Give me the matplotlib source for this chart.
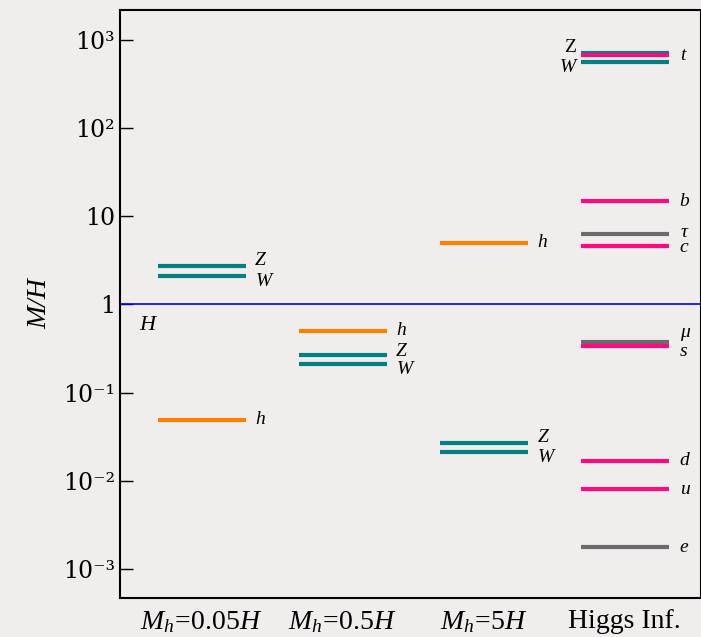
import matplotlib
matplotlib.use("Agg")
import matplotlib.pyplot as plt
import matplotlib.transforms as mtransforms

plt.rcParams['mathtext.fontset'] = 'custom'
plt.rcParams['mathtext.rm'] = 'Liberation Serif'
plt.rcParams['mathtext.it'] = 'Liberation Serif:italic'

BG = '#f0edec'
TEAL = '#008080'
PINK = '#ff0a7f'
GRAY = '#6b6b6b'
ORANGE = '#ff8000'

# x categories
categories = [r'$M_h\!=\!0.05H$', r'$M_h\!=\!0.5H$', r'$M_h\!=\!5H$', 'Higgs Inf.']

# masses in units of H, per column
col0_names = ['Z', 'W', 'h']
col0_vals = [2.70, 2.12, 0.049]
col1_names = ['h', 'Z', 'W']
col1_vals = [0.50, 0.265, 0.21]
col2_names = ['h', 'Z', 'W']
col2_vals = [5.0, 0.0265, 0.021]
col3_names = ['Z', 't', 'W', 'b', 'tau', 'c', 'mu', 's', 'd', 'u', 'e']
col3_vals = [706, 670, 568, 14.9, 6.36, 4.56, 0.377, 0.339, 0.0168, 0.00796, 0.00177]

colour = {'Z': TEAL, 'W': TEAL, 'h': ORANGE, 't': PINK, 'b': PINK, 'c': PINK,
          's': PINK, 'd': PINK, 'u': PINK, 'tau': GRAY, 'mu': GRAY, 'e': GRAY}
tex = {'tau': r'$\tau$', 'mu': r'$\mu$'}

# label offsets (points): dx from line end, dy
offs = {
    0: {'Z': (7, 4), 'W': (7, -4), 'h': (7, 0)},
    1: {'h': (7, 0), 'Z': (7, 3), 'W': (7, -4)},
    2: {'h': (7, 0), 'Z': (7, 4), 'W': (7, -4)},
    3: {'t': (8, 0), 'b': (8, 0), 'tau': (8, 1), 'c': (8, -1),
        'mu': (8, 5), 's': (8, -4), 'd': (8, 0), 'u': (8, 0), 'e': (8, 0)},
}

fig = plt.figure(figsize=(7.01, 6.37), dpi=100, facecolor=BG)
ax = fig.add_axes([120 / 701, 1 - 598 / 637, 1 - 120 / 701, (598 - 10) / 637])
ax.set_facecolor(BG)
ax.set_yscale('log')
ax.set_ylim(10 ** -3.33, 10 ** 3.34)
ax.set_xlim(-0.58, 3.54)

hw = 0.31
columns = [(col0_names, col0_vals), (col1_names, col1_vals),
           (col2_names, col2_vals), (col3_names, col3_vals)]
for i, (names, vals) in enumerate(columns):
    for n, v in zip(names, vals):
        ax.hlines(v, i - hw, i + hw, color=colour[n], lw=3, zorder=3 if n != 't' else 4)
        label = tex.get(n, n)
        if i == 3 and n in ('Z', 'W'):
            dy = 4 if n == 'Z' else -4
            ax.annotate(label, (i - hw, v), xytext=(-4, dy),
                        textcoords='offset points', ha='right', va='center',
                        fontsize=14, family='Liberation Serif',
                        style='italic' if n == 'W' else 'normal')
            continue
        dx, dy = offs[i][n]
        ax.annotate(label, (i + hw, v), xytext=(dx, dy), textcoords='offset points',
                    ha='left', va='center', fontsize=14, family='Liberation Serif',
                    style='italic')

ax.axhline(1, color='blue', lw=1.2, zorder=2)
trans = mtransforms.blended_transform_factory(ax.transAxes, ax.transData)
ax.annotate('H', (0, 1), xycoords=trans, xytext=(14, -15), textcoords='offset points',
            ha='left', va='center', fontsize=16, family='Liberation Serif', style='italic')

yt = [1e-3, 1e-2, 1e-1, 1, 10, 1e2, 1e3]
ytl = ['10⁻³', '10⁻²', '10⁻¹', '1', '10', '10²', '10³']
ax.set_yticks(yt)
ax.set_yticklabels(ytl, family='DejaVu Serif', fontsize=17)
ax.minorticks_off()
ax.tick_params(axis='y', direction='in', length=9, width=1, right=False)
ax.set_xticks(range(4))
ax.set_xticklabels(categories, family='Liberation Serif', fontsize=20)
ax.tick_params(axis='x', length=0, pad=8)
for s in ax.spines.values():
    s.set_linewidth(1.5)

ax.set_ylabel('M/H', family='Liberation Serif', style='italic', fontsize=20, labelpad=8)

fig.savefig('out.png', dpi=100, facecolor=BG)
